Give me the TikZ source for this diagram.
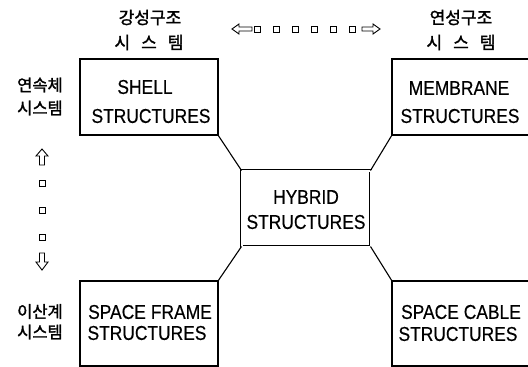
\documentclass[tikz,border=0pt]{standalone}
\usepackage{fontspec}
\setmainfont{Liberation Sans}
\newfontfamily\boxfont[FakeStretch=0.87,FakeBold=0.4]{Liberation Sans}
\newfontfamily\kr[FakeBold=1.6]{Noto Sans CJK KR}
\begin{document}
\begin{tikzpicture}[x=1pt,y=-1pt,
  box/.style={draw,line width=1.8pt,inner sep=0pt,outer sep=0pt},
  hybox/.style={draw,double,double distance=2pt,line width=0.9pt,inner sep=0pt,outer sep=0pt},
  txt/.style={font=\boxfont\fontsize{20}{24}\selectfont,inner sep=0pt},
  krt/.style={font=\kr\fontsize{17}{20}\selectfont,inner sep=0pt},
  krs/.style={font=\kr\fontsize{16.5}{20}\selectfont,inner sep=0pt},
  link/.style={line width=1.1pt},
  sqbox/.style={draw,line width=0.9pt,minimum size=6pt,inner sep=0pt},
  arr/.style={draw,line width=0.9pt,line join=miter}]
\clip (0,0) rectangle (528,367);
% boxes
\node[box,minimum width=138pt,minimum height=76pt] (shell) at (149,97) {};
\node[box,minimum width=139pt,minimum height=76pt] (membrane) at (461.5,97) {};
\node[box,minimum width=138pt,minimum height=85pt] (frame) at (149,323.5) {};
\node[box,minimum width=139pt,minimum height=85pt] (cable) at (461.5,323.5) {};
\node[hybox,minimum width=129pt,minimum height=76pt] (hybrid) at (306,208.5) {};
% connectors
\draw[link] (shell.south east) -- (hybrid.north west);
\draw[link] (membrane.south west) -- (hybrid.north east);
\draw[link] (frame.north east) -- (hybrid.south west);
\draw[link] (cable.north west) -- (hybrid.south east);
% box texts
\node[txt] (shellA) at (145,87) {SHELL};
\node[txt] (shellB) at (151,116) {STRUCTURES};
\node[txt] (memA) at (459,88) {MEMBRANE};
\node[txt] (memB) at (460,116) {STRUCTURES};
\node[txt] (hybA) at (306,197) {HYBRID};
\node[txt] (hybB) at (306,222) {STRUCTURES};
\node[txt] (frA) at (150,312) {SPACE\hspace{5pt}FRAME};
\node[txt] (frB) at (147,333) {STRUCTURES};
\node[txt] (caA) at (461,312) {SPACE\hspace{5pt}CABLE};
\node[txt] (caB) at (458,334) {STRUCTURES};
% korean labels
\node[krt] (rigA) at (150,17.5) {강성구조};
\node[krt] (rigB) at (149,42.5) {시\hspace{11pt}스\hspace{11pt}템};
\node[krt] (flxA) at (461,17.5) {연성구조};
\node[krt] (flxB) at (461,42.5) {시\hspace{11pt}스\hspace{11pt}템};
\node[krs] (conA) at (40,85) {연속체};
\node[krs] (conB) at (40,108) {시스템};
\node[krs] (disA) at (40,311.5) {이산계};
\node[krs] (disB) at (40,332) {시스템};
% horizontal arrow row
\draw[arr] (232,29) -- (239,24) -- (239,27) -- (252,27) -- (252,31) -- (239,31) -- (239,34) -- cycle;
\foreach \i/\x in {1/257,2/276,3/295,4/314,5/333,6/352}
  \node[sqbox] (h\i) at (\x,29) {};
\draw[arr] (380,29) -- (373,24) -- (373,27) -- (362,27) -- (362,31) -- (373,31) -- (373,34) -- cycle;
% vertical arrow column
\draw[arr] (42,149) -- (48,156) -- (44.5,156) -- (44.5,165) -- (39.5,165) -- (39.5,156) -- (36,156) -- cycle;
\foreach \i/\y in {1/183.5,2/210,3/237}
  \node[sqbox] (v\i) at (42,\y) {};
\draw[arr] (42,270) -- (48,262) -- (44.5,262) -- (44.5,253) -- (39.5,253) -- (39.5,262) -- (36,262) -- cycle;
\end{tikzpicture}
\end{document}
